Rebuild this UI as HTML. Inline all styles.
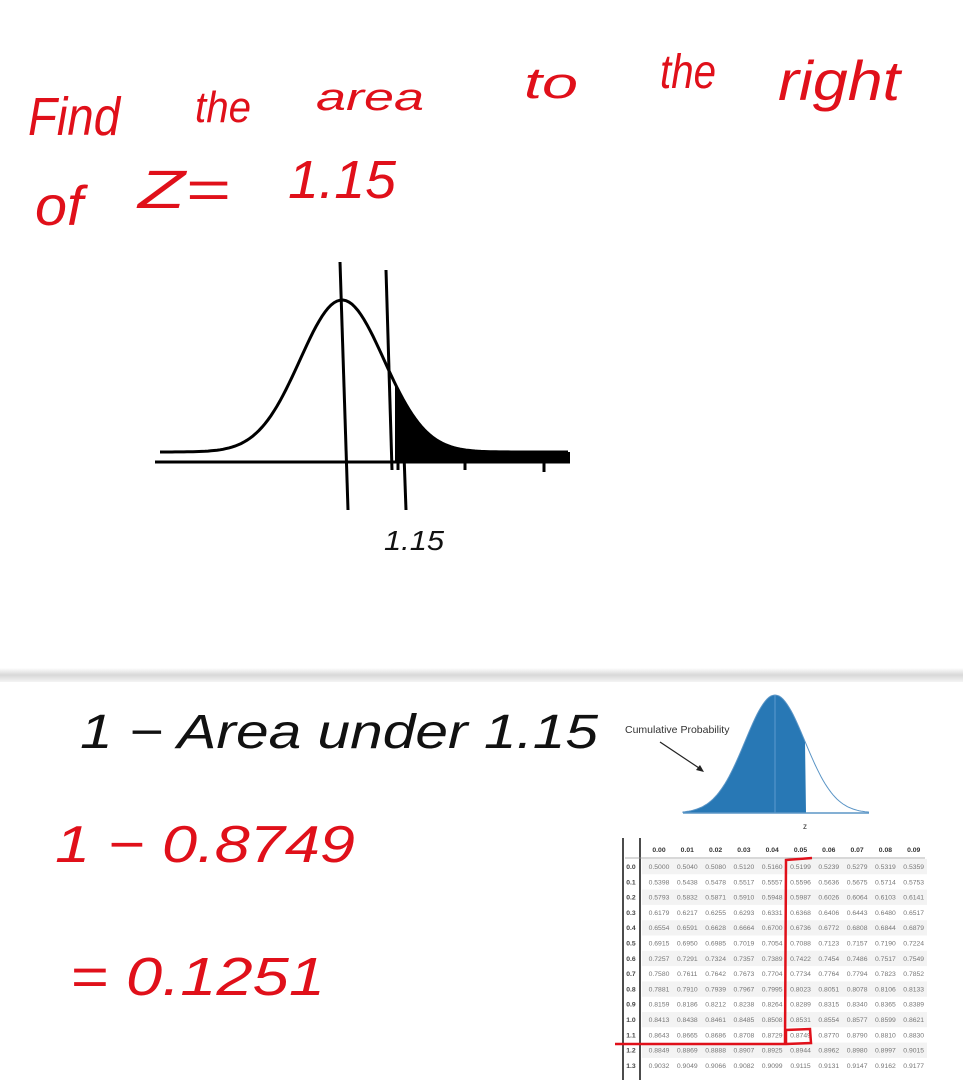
<!DOCTYPE html>
<html><head><meta charset="utf-8"><style>
body{margin:0;background:#fff;width:963px;height:1080px;overflow:hidden;font-family:"Liberation Sans",sans-serif}
svg{display:block}
</style></head><body>
<svg id="s" width="963" height="1080" viewBox="0 0 963 1080">
<defs><linearGradient id="g" x1="0" y1="0" x2="0" y2="1"><stop offset="0" stop-color="#fff"/><stop offset="0.5" stop-color="#d8d8d8"/><stop offset="1" stop-color="#f4f4f4"/></linearGradient></defs>
<g fill="#e0101a" font-family="Liberation Sans, sans-serif" font-style="italic">
<text x="28" y="135" font-size="54" textLength="92" lengthAdjust="spacingAndGlyphs">Find</text>
<text x="195" y="122" font-size="44" textLength="56" lengthAdjust="spacingAndGlyphs">the</text>
<text x="316" y="110" font-size="38" textLength="108" lengthAdjust="spacingAndGlyphs">area</text>
<text x="524" y="98" font-size="44" textLength="54" lengthAdjust="spacingAndGlyphs">to</text>
<text x="660" y="88" font-size="48" textLength="56" lengthAdjust="spacingAndGlyphs">the</text>
<text x="778" y="100" font-size="56" textLength="122" lengthAdjust="spacingAndGlyphs">right</text>
<text x="35" y="225" font-size="56" textLength="48" lengthAdjust="spacingAndGlyphs">of</text>
<text x="138" y="208" font-size="54" textLength="92" lengthAdjust="spacingAndGlyphs">Z=</text>
<text x="288" y="198" font-size="54" textLength="108" lengthAdjust="spacingAndGlyphs">1.15</text>
</g>
<g id="bell" stroke="#000" stroke-width="3" fill="none"></g>
<text x="384" y="550" font-size="28" fill="#111" font-style="italic" textLength="60" lengthAdjust="spacingAndGlyphs">1.15</text>
<rect x="0" y="668" width="963" height="14" fill="url(#g)"/>
<text x="80" y="748" font-size="48" fill="#111" font-style="italic" textLength="518" lengthAdjust="spacingAndGlyphs">1 − Area under 1.15</text>
<text x="55" y="862" font-size="52" fill="#e0101a" font-style="italic" textLength="300" lengthAdjust="spacingAndGlyphs">1 − 0.8749</text>
<text x="70" y="995" font-size="54" fill="#e0101a" font-style="italic" textLength="255" lengthAdjust="spacingAndGlyphs">= 0.1251</text>
<g id="cum"></g>
<text x="625" y="733" font-size="10.5" fill="#333">Cumulative Probability</text>
<line x1="660" y1="742" x2="702" y2="770" stroke="#222" stroke-width="1.2"/>
<polygon points="704,772 696,770 700,765" fill="#222"/>
<text x="803" y="829" font-size="8" fill="#333">z</text>
<g id="tbl" font-size="6.8" font-family="Liberation Sans, sans-serif"></g>
</svg>
<script>
const colHeaders=["0.00","0.01","0.02","0.03","0.04","0.05","0.06","0.07","0.08","0.09"];
const rowHeaders=["0.0","0.1","0.2","0.3","0.4","0.5","0.6","0.7","0.8","0.9","1.0","1.1","1.2","1.3"];
const tableValues=[
["0.5000","0.5040","0.5080","0.5120","0.5160","0.5199","0.5239","0.5279","0.5319","0.5359"],
["0.5398","0.5438","0.5478","0.5517","0.5557","0.5596","0.5636","0.5675","0.5714","0.5753"],
["0.5793","0.5832","0.5871","0.5910","0.5948","0.5987","0.6026","0.6064","0.6103","0.6141"],
["0.6179","0.6217","0.6255","0.6293","0.6331","0.6368","0.6406","0.6443","0.6480","0.6517"],
["0.6554","0.6591","0.6628","0.6664","0.6700","0.6736","0.6772","0.6808","0.6844","0.6879"],
["0.6915","0.6950","0.6985","0.7019","0.7054","0.7088","0.7123","0.7157","0.7190","0.7224"],
["0.7257","0.7291","0.7324","0.7357","0.7389","0.7422","0.7454","0.7486","0.7517","0.7549"],
["0.7580","0.7611","0.7642","0.7673","0.7704","0.7734","0.7764","0.7794","0.7823","0.7852"],
["0.7881","0.7910","0.7939","0.7967","0.7995","0.8023","0.8051","0.8078","0.8106","0.8133"],
["0.8159","0.8186","0.8212","0.8238","0.8264","0.8289","0.8315","0.8340","0.8365","0.8389"],
["0.8413","0.8438","0.8461","0.8485","0.8508","0.8531","0.8554","0.8577","0.8599","0.8621"],
["0.8643","0.8665","0.8686","0.8708","0.8729","0.8749","0.8770","0.8790","0.8810","0.8830"],
["0.8849","0.8869","0.8888","0.8907","0.8925","0.8944","0.8962","0.8980","0.8997","0.9015"],
["0.9032","0.9049","0.9066","0.9082","0.9099","0.9115","0.9131","0.9147","0.9162","0.9177"]];
const NS="http://www.w3.org/2000/svg";
function mk(p,t,a){const e=document.createElementNS(NS,t);for(const k in a)e.setAttribute(k,a[k]);p.appendChild(e);return e;}
const bell=document.getElementById('bell');
function gx(x,c,w,base,h){return base-h*Math.exp(-((x-c)*(x-c))/(2*w*w));}
let d="";
for(let x=160;x<=570;x+=3){const y=gx(x,342,42,452,152);d+=(x==160?"M":"L")+x+","+y.toFixed(1);}
let sh="M395,462";for(let x=395;x<=570;x+=3){sh+="L"+x+","+gx(x,342,42,452,152).toFixed(1);}sh+="L570,452L570,462Z";
let p=mk(bell,'path',{d:sh,fill:'#000',stroke:'none'});


mk(bell,'path',{d:d});
mk(bell,'line',{x1:155,y1:462,x2:570,y2:462});
mk(bell,'line',{x1:340,y1:262,x2:348,y2:510});
mk(bell,'line',{x1:386,y1:270,x2:392,y2:470});
mk(bell,'line',{x1:404,y1:455,x2:406,y2:510});
mk(bell,'line',{x1:398,y1:455,x2:398,y2:470});
mk(bell,'line',{x1:465,y1:455,x2:465,y2:470});
mk(bell,'line',{x1:544,y1:455,x2:544,y2:472});
const cum=document.getElementById('cum');
let cs="M683,813",cl="M683,813";
for(let x=683;x<=869;x+=2){const y=gx(x,775,30,813,118);if(x<=806)cs+="L"+x+","+y.toFixed(1);cl+="L"+x+","+y.toFixed(1);}
cs+="L806,813Z";
mk(cum,'path',{d:cs,fill:'#2878b5'});
mk(cum,'path',{d:cl,fill:'none',stroke:'#5b95c6','stroke-width':1});
mk(cum,'line',{x1:775,y1:695,x2:775,y2:813,stroke:'#5b9ad0','stroke-width':1});
mk(cum,'line',{x1:683,y1:813,x2:869,y2:813,stroke:'#5b95c6','stroke-width':1.5});
const tbl=document.getElementById('tbl');
const x0=659,dx=28.3,y0=869,dy=15.3;
rowHeaders.forEach((r,i)=>{if(i%2==0)mk(tbl,'rect',{x:642,y:y0+i*dy-10,width:285,height:dy,fill:'#f3f3f3'});});
mk(tbl,'line',{x1:623,y1:838,x2:623,y2:1080,stroke:'#111','stroke-width':1.5});
mk(tbl,'line',{x1:640,y1:838,x2:640,y2:1080,stroke:'#111','stroke-width':1.5});
mk(tbl,'line',{x1:625,y1:858,x2:925,y2:858,stroke:'#999','stroke-width':0.8});
colHeaders.forEach((c,j)=>{const t=mk(tbl,'text',{x:x0+j*dx,y:852,'text-anchor':'middle','font-weight':'bold',fill:'#333'});t.textContent=c;

});
rowHeaders.forEach((r,i)=>{const t=mk(tbl,'text',{x:631,y:y0+i*dy,'text-anchor':'middle','font-weight':'bold',fill:'#444'});t.textContent=r;


tableValues[i].forEach((v,j)=>{const c=mk(tbl,'text',{x:x0+j*dx,y:y0+i*dy,'text-anchor':'middle',fill:'#777'});c.textContent=v;

});});
const ann=mk(tbl,'path',{d:"M615,1044L785,1044L786,860L812,858M786,1044L786,1030L810,1029L811,1043L786,1044",fill:'none',stroke:'#e0101a','stroke-width':2.5});


</script>
</body></html>
